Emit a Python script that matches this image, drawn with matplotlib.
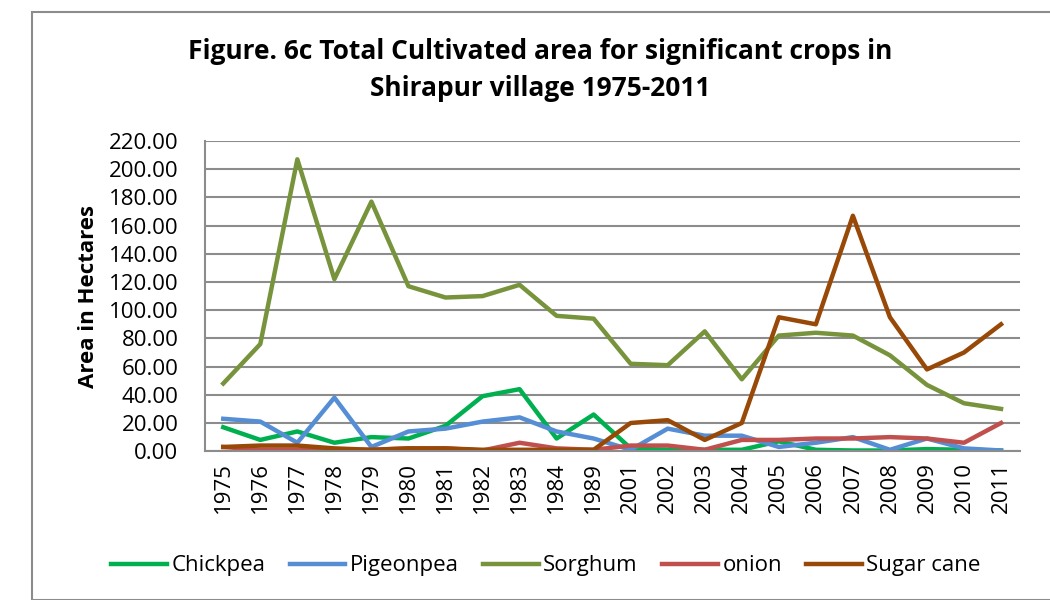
import matplotlib.pyplot as plt
from matplotlib.patches import Rectangle

years = ["1975", "1976", "1977", "1978", "1979", "1980", "1981", "1982", "1983", "1984",
         "1989", "2001", "2002", "2003", "2004", "2005", "2006", "2007", "2008", "2009",
         "2010", "2011"]

chickpea = [17, 8, 14, 6, 10, 9, 18, 39, 44, 9, 26, 2, 1, 1, 1, 7, 1, 0.5, 0.5, 1.5, 1, 0.5]
pigeonpea = [23, 21, 6, 38, 3, 14, 16, 21, 24, 14, 9, 1, 16, 11, 11, 3, 6, 10, 1, 9, 2, 0.5]
sorghum = [48, 76, 207, 122, 177, 117, 109, 110, 118, 96, 94, 62, 61, 85, 51, 82, 84, 82,
           68, 47, 34, 30]
onion = [3, 1, 1, 1, 1, 2, 2, 0.5, 6, 2, 1, 4, 4, 1, 8, 8, 9, 9, 10, 9, 6, 20]
sugar_cane = [3, 4, 4, 2, 1, 2, 2, 1, 1, 1, 1, 20, 22, 8, 20, 95, 90, 167, 95, 58, 70, 90]

names = ["Chickpea", "Pigeonpea", "Sorghum", "onion", "Sugar cane"]
colors = ["#00B050", "#558ED5", "#77933C", "#C0504D", "#984807"]

plt.rcParams['font.family'] = ['Open Sans', 'DejaVu Sans']

fig = plt.figure(figsize=(10.5, 6), dpi=100)
ax = fig.add_axes([0.195, 0.248, 0.776, 0.517])

# outer chart frame (cut off at the right)
fig.patches.append(Rectangle((32 / 1050, 0), 1.0, 1 - 12 / 600, transform=fig.transFigure,
                             fill=False, edgecolor="#8c8c8c", linewidth=1.5))

x = list(range(len(years)))
for vals, name, c in zip([chickpea, pigeonpea, sorghum, onion, sugar_cane], names, colors):
    ax.plot(x, vals, color=c, linewidth=3.2, label=name, solid_joinstyle='round')

ax.set_xlim(-0.5, len(years) - 0.5)
ax.set_ylim(0, 220)
ax.set_yticks(range(0, 221, 20))
ax.set_yticklabels([f"{v:.2f}" for v in range(0, 221, 20)], fontsize=16)
ax.set_xticks(x)
ax.set_xticklabels(years, rotation=90, fontsize=16)
ax.tick_params(axis='y', length=0, pad=19)
ax.tick_params(axis='x', length=0, pad=8)
ax.grid(axis='y', color="#8c8c8c", linewidth=1.5)
ax.set_axisbelow(True)
for s in ['top', 'right']:
    ax.spines[s].set_visible(False)
ax.spines['left'].set_color("#8c8c8c")
ax.spines['bottom'].set_color("#8c8c8c")
ax.spines['left'].set_linewidth(1.5)
ax.spines['bottom'].set_linewidth(1.5)

ax.set_ylabel("Area in Hectares", fontsize=16, fontweight='bold')
ax.yaxis.set_label_coords(-0.13, 0.5)

fig.text(0.514, 0.883, "Figure. 6c Total Cultivated area for significant crops in\nShirapur village 1975-2011",
         ha='center', va='center', fontsize=19, fontweight='bold', linespacing=1.45)

fig.legend(loc='center', bbox_to_anchor=(0.52, 0.057), ncol=5, frameon=False, fontsize=16,
           handlelength=2.5, columnspacing=1.1, handletextpad=0.2)

fig.savefig("out.png", dpi=100, facecolor="white")
